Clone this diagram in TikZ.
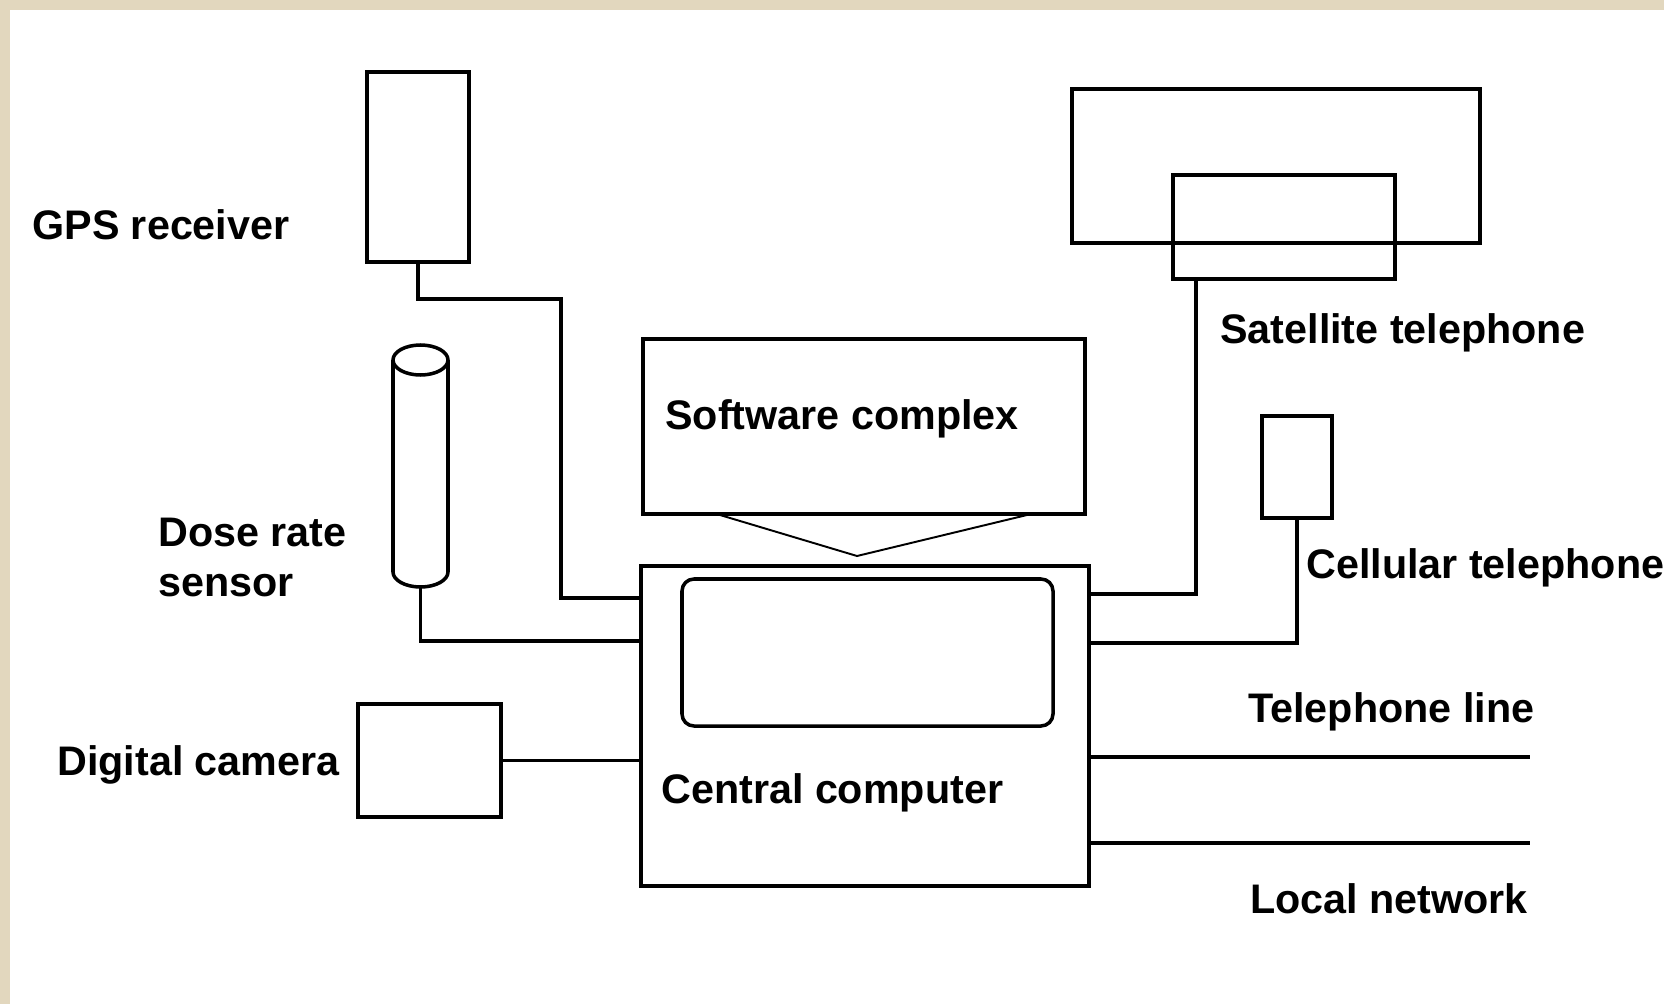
\documentclass[tikz,border=0pt]{standalone}
\usepackage{fontspec}
\setmainfont{Liberation Sans}
\usetikzlibrary{fit}
\definecolor{frame}{RGB}{226,215,190}

\begin{document}
\begin{tikzpicture}[x=0.02cm, y=-0.02cm, % 像素坐标，y 轴向下
    box/.style={draw, line width=2.2pt, inner sep=0pt},
    wire/.style={line width=1.9pt},
    lbl/.style={inner sep=0pt, anchor=base west, align=left,
                font=\fontsize{23.5}{27.9}\selectfont\bfseries}]

    % 0. 画布与左上米色边框
    \useasboundingbox (0,0) rectangle (1664,1004);
    \fill[frame] (0,0) rectangle (1664,10);
    \fill[frame] (0,0) rectangle (10,1004);

    % 1. 中央计算机与软件部分
    \node[box, fit={(641,566) (1089,886)}] (comp) {};
    \node[box, line width=2pt, rounded corners=0.24cm, fit={(682,579) (1053,726)}] (screen) {};
    \node[lbl] (comp-lbl) at (661,803) {Central computer};
    \node[box, fit={(643,339) (1085,514)}] (soft) {};
    \node[lbl] (soft-lbl) at (665,429) {Software complex};
    % 软件到计算机的 V 形连线
    \coordinate (soft-l) at (720,515);
    \coordinate (soft-v) at (857,556);
    \coordinate (soft-r) at (1027,515);
    \draw[line width=1.1pt] (soft-l) -- (soft-v) -- (soft-r);

    % 2. 左侧设备：GPS、剂量率传感器、数码相机
    \node[box, fit={(367,72) (469,262)}] (gps) {};
    \node[lbl] (gps-lbl) at (32,239) {GPS receiver};
    % 圆柱形传感器
    \draw[line width=2pt] (393,360) -- (393,572) arc (180:0:27.5 and 15) -- (448,360);
    \draw[line width=2pt] (420.5,360) ellipse (27.5 and 15);
    \coordinate (dose) at (420.5,587);
    \node[lbl] (dose-lbl) at (158,596) {Dose rate\\sensor};
    \node[box, fit={(358,704) (501,817)}] (cam) {};
    \node[lbl] (cam-lbl) at (57,775) {Digital camera};

    % 3. 右侧设备：卫星电话、手机
    \node[box, fit={(1072,89) (1480,243)}] (sat) {};
    \node[box, fit={(1173,175) (1395,279)}] (sat-in) {};
    \node[lbl] (sat-lbl) at (1220,343) {Satellite telephone};
    \node[box, fit={(1262,416) (1332,518)}] (cell) {};
    \node[lbl] (cell-lbl) at (1306,578) {Cellular telephone};
    \node[lbl] (tel-lbl) at (1248,722) {Telephone line};
    \node[lbl] (lan-lbl) at (1250,913) {Local network};

    % 4. 连线（计算机上的接口点）
    \coordinate (gps-bend) at (561,299);
    \coordinate (comp-gps) at (641,598);
    \coordinate (comp-dose) at (641,641);
    \coordinate (sat-foot) at (1196,279);
    \coordinate (comp-sat) at (1089,594);
    \coordinate (comp-cell) at (1089,643);
    \coordinate (comp-tel) at (1089,757);
    \coordinate (comp-lan) at (1089,843);
    \coordinate (tel-end) at (1530,757);
    \coordinate (lan-end) at (1530,843);

    \draw[wire] (gps.south) |- (gps-bend) |- (comp-gps);
    \draw[wire] (dose) |- (comp-dose);
    \draw[wire] (cam.east) -- (cam.east -| comp.west);
    \draw[wire] (sat-foot) |- (comp-sat);
    \draw[wire] (cell.south) |- (comp-cell);
    \draw[wire] (comp-tel) -- (tel-end);
    \draw[wire] (comp-lan) -- (lan-end);

\end{tikzpicture}
\end{document}
